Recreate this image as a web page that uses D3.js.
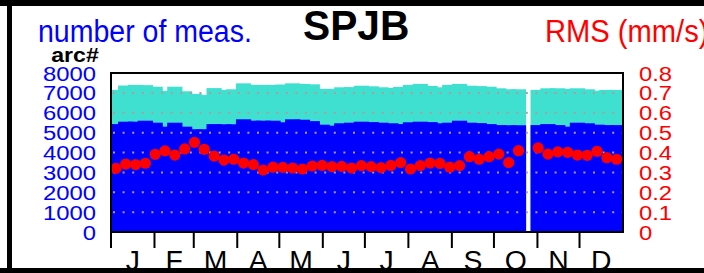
<!DOCTYPE html>
<html>
<head>
<meta charset="utf-8">
<script src="https://cdn.jsdelivr.net/npm/d3@7"></script>
<style>
  body { margin: 0; background: #fff; }
  svg { display: block; font-family: "Liberation Sans", Arial, sans-serif; }
</style>
</head>
<body>
<div id="chart"></div>
<script>
// weekly values, week 42 has no data
var countAll = [7150, 7370, 7400, 7390, 7310, 7100, 7310, 7080, 6950, 6890,
  7240, 7150, 7180, 7480, 7400, 7400, 7400, 7420, 7480, 7450,
  7430, 7200, 7200, 7280, 7290, 7360, 7330, 7280, 7250, 7300,
  7400, 7450, 7350, 7280, 7400, 7450, 7360, 7340, 7310, 7230,
  7180, 7180, null, 7150, 7230, 7230, 7200, 7230, 7180, 7110, 7150, 7150];
var countUsed = [5430, 5550, 5550, 5600, 5500, 5300, 5500, 5300, 5170, 5170,
  5430, 5420, 5420, 5670, 5600, 5600, 5600, 5520, 5670, 5650,
  5580, 5400, 5350, 5470, 5500, 5550, 5530, 5500, 5470, 5430,
  5520, 5550, 5530, 5470, 5500, 5600, 5500, 5480, 5430, 5380,
  5370, 5370, null, 5380, 5430, 5380, 5300, 5500, 5470, 5400, 5380, 5380];
var rms = [0.320, 0.342, 0.339, 0.346, 0.391, 0.408, 0.387, 0.418, 0.451, 0.416,
  0.382, 0.362, 0.366, 0.347, 0.339, 0.312, 0.326, 0.325, 0.322, 0.317,
  0.332, 0.335, 0.329, 0.330, 0.322, 0.334, 0.329, 0.324, 0.335, 0.349,
  0.317, 0.334, 0.347, 0.345, 0.326, 0.334, 0.379, 0.366, 0.379, 0.392,
  0.349, 0.409, null, 0.423, 0.392, 0.403, 0.401, 0.387, 0.386, 0.406, 0.374, 0.366];
var monthLabels = ["J", "F", "M", "A", "M", "J", "J", "A", "S", "O", "N", "D"];
var leftTicks = [0, 1000, 2000, 3000, 4000, 5000, 6000, 7000, 8000];
var rightTicks = [0, 0.1, 0.2, 0.3, 0.4, 0.5, 0.6, 0.7, 0.8];

render();

function render() {
  var W = 704, H = 273;
  var plot = { left: 111, right: 623, top: 73, bottom: 232 };
  var stretch = 1.135;

  var svg = d3.select("#chart").append("svg")
    .attr("width", W)
    .attr("height", H);

  var year0 = new Date(2021, 0, 1), year1 = new Date(2022, 0, 1);
  var xScale = d3.scaleTime().domain([year0, year1]).range([plot.left, plot.right]);
  var yScale = d3.scaleLinear().domain([0, 8000]).range([plot.bottom, plot.top]);
  var rScale = d3.scaleLinear().domain([0, 0.8]).range([plot.bottom, plot.top]);

  var weeks = countAll.map(function (v, i) {
    var start = d3.timeDay.offset(year0, 7 * i);
    return { start: start, mid: d3.timeHour.offset(start, 84), all: v, used: countUsed[i], rms: rms[i] };
  });
  var step = xScale(weeks[1].start) - xScale(weeks[0].start);
  var barW = step + 5.4;

  svg.append("clipPath").attr("id", "clip")
    .append("rect")
    .attr("x", plot.left).attr("y", plot.top)
    .attr("width", plot.right - plot.left).attr("height", plot.bottom - plot.top);

  var g = svg.append("g").attr("clip-path", "url(#clip)");
  var valid = weeks.filter(function (d) { return d.all != null; });

  g.selectAll("rect.all").data(valid).enter().append("rect")
    .attr("x", function (d) { return xScale(d.mid) - barW / 2; })
    .attr("y", function (d) { return yScale(d.all); })
    .attr("width", barW)
    .attr("height", function (d) { return plot.bottom - yScale(d.all); })
    .attr("fill", "#40e0d0");

  g.selectAll("rect.used").data(valid).enter().append("rect")
    .attr("x", function (d) { return xScale(d.mid) - barW / 2; })
    .attr("y", function (d) { return yScale(d.used); })
    .attr("width", barW)
    .attr("height", function (d) { return plot.bottom - yScale(d.used); })
    .attr("fill", "#0000ff");

  // dotted grid
  g.selectAll("line.grid").data(leftTicks.slice(1, 8)).enter().append("line")
    .attr("x1", plot.left + 2).attr("x2", plot.right)
    .attr("y1", function (d) { return yScale(d); })
    .attr("y2", function (d) { return yScale(d); })
    .attr("stroke", "#b39a9a")
    .attr("stroke-width", 2)
    .attr("stroke-dasharray", "2,7.6");

  g.selectAll("circle").data(valid).enter().append("circle")
    .attr("cx", function (d) { return xScale(d.mid); })
    .attr("cy", function (d) { return rScale(d.rms); })
    .attr("r", 5.6)
    .attr("fill", "#ff0000");

  svg.append("rect")
    .attr("x", plot.left).attr("y", plot.top)
    .attr("width", plot.right - plot.left).attr("height", plot.bottom - plot.top)
    .attr("fill", "none").attr("stroke", "#000").attr("stroke-width", 2);

  // month ticks and labels
  var months = d3.timeMonth.range(year0, year1);
  svg.selectAll("line.mtick").data(months).enter().append("line")
    .attr("x1", function (d) { return xScale(d); })
    .attr("x2", function (d) { return xScale(d); })
    .attr("y1", plot.bottom).attr("y2", plot.bottom + 16)
    .attr("stroke", "#000").attr("stroke-width", 2);

  months.forEach(function (m, i) {
    var mid = new Date((+m + +d3.timeMonth.offset(m, 1)) / 2);
    addText(xScale(mid), 270, monthLabels[i], 27, "#000", "middle", 1.05, false);
  });

  leftTicks.forEach(function (v) {
    addText(96, yScale(v) + 7.5, String(v), 21, "#0000ff", "end", stretch, false);
  });
  rightTicks.forEach(function (v) {
    addText(639, rScale(v) + 7.5, v === 0 ? "0" : String(v), 21, "#ff0000", "start", stretch, false);
  });

  addText(75, 62, "arc#", 21, "#000", "middle", 1.1, true);
  addText(38, 42, "number of meas.", 31, "#0000ff", "start", 0.92, false);
  addText(303, 40, "SPJB", 42, "#000", "start", 0.97, true);
  addText(545, 42, "RMS (mm/s)", 31, "#ff0000", "start", 0.94, false);

  // frame
  svg.append("rect").attr("x", 0).attr("y", 0).attr("width", W).attr("height", 6).attr("fill", "#000");
  svg.append("rect").attr("x", 7).attr("y", 0).attr("width", 5).attr("height", H).attr("fill", "#000");
  svg.append("rect").attr("x", 0).attr("y", 268).attr("width", W).attr("height", 5).attr("fill", "#000");

  function addText(x, y, str, size, color, anchor, sx, bold) {
    svg.append("text")
      .attr("transform", "translate(" + x + "," + y + ") scale(" + sx + ",1)")
      .attr("text-anchor", anchor)
      .attr("font-size", size + "px")
      .attr("font-weight", bold ? "bold" : "normal")
      .attr("fill", color)
      .text(str);
  }
}
</script>
</body>
</html>
